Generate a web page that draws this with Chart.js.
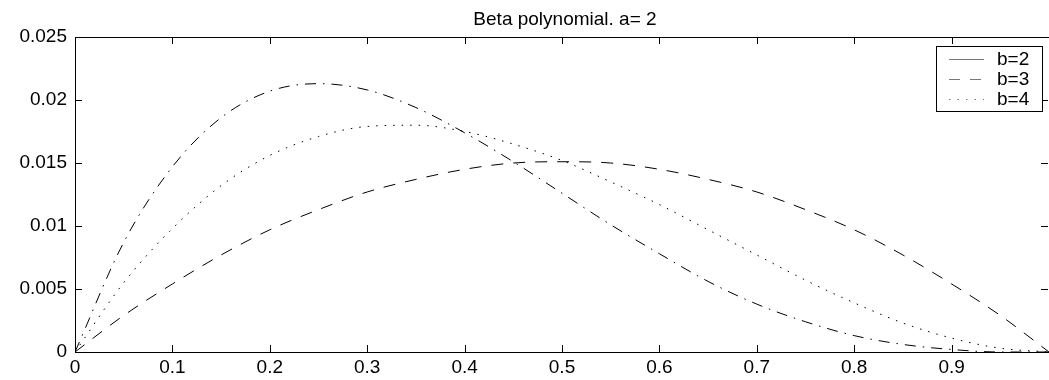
<!DOCTYPE html>
<html>
<head>
<meta charset="utf-8">
<script src="https://cdn.jsdelivr.net/npm/chart.js@4"></script>
<style>
  html, body { margin: 0; padding: 0; background: #fff; overflow: hidden; }
  #wrap { width: 1049px; height: 380px; }
</style>
</head>
<body>
<div id="wrap"><canvas id="chart" width="1049" height="380"></canvas></div>
<script>
// values
const xValues = [0, 0.05, 0.1, 0.15, 0.2, 0.25, 0.3, 0.35, 0.4, 0.45, 0.5,
                 0.55, 0.6, 0.65, 0.7, 0.75, 0.8, 0.85, 0.9, 0.95, 1.0];
const dashedValues = [0, 0.0029, 0.0054, 0.0077, 0.0097, 0.0113, 0.0127, 0.0137, 0.0145, 0.0150, 0.0151,
                      0.0150, 0.0145, 0.0137, 0.0127, 0.0113, 0.0097, 0.0077, 0.0054, 0.0029, 0];
const dottedValues = [0, 0.0055, 0.0098, 0.0132, 0.0156, 0.0171, 0.0179, 0.0180, 0.0175, 0.0165, 0.0152,
                      0.0135, 0.0117, 0.0097, 0.0077, 0.0057, 0.0039, 0.0023, 0.0011, 0.0003, 0];
const dashDotValues = [0, 0.0087, 0.0147, 0.0186, 0.0207, 0.0213, 0.0208, 0.0194, 0.0174, 0.0151, 0.0126,
                       0.0101, 0.0078, 0.0056, 0.0038, 0.0024, 0.0013, 0.0006, 0.0002, 0, 0];
const seriesLabels = ['b=2', 'b=3', 'b=4'];
const legendDashes = [[], [11, 10], [1.5, 7]];
const titleText = 'Beta polynomial. a= 2';
const xTicks = [0, 0.1, 0.2, 0.3, 0.4, 0.5, 0.6, 0.7, 0.8, 0.9];
const yTicks = [0, 0.005, 0.01, 0.015, 0.02, 0.025];

const FONT = 'Liberation Sans, Arial, Helvetica, sans-serif';

function toPoints(ys) {
  return xValues.map((x, i) => ({ x: x, y: ys[i] }));
}

// box, inward ticks, title and legend like the matlab figure
const matlabFrame = {
  id: 'matlabFrame',
  afterDraw(chart) {
    const ctx = chart.ctx;
    const a = chart.chartArea;
    const xs = chart.scales.x, ys = chart.scales.y;
    ctx.save();
    ctx.strokeStyle = '#000';
    ctx.lineWidth = 1;
    ctx.setLineDash([]);
    ctx.strokeRect(Math.round(a.left) + 0.5, Math.round(a.top) + 0.5,
                   Math.round(a.right - a.left), Math.round(a.bottom - a.top));
    const tl = 7;
    ctx.beginPath();
    xTicks.forEach(v => {
      const px = Math.round(xs.getPixelForValue(v)) + 0.5;
      ctx.moveTo(px, a.bottom); ctx.lineTo(px, a.bottom - tl);
      ctx.moveTo(px, a.top); ctx.lineTo(px, a.top + tl);
    });
    yTicks.forEach(v => {
      const py = Math.round(ys.getPixelForValue(v)) + 0.5;
      ctx.moveTo(a.left, py); ctx.lineTo(a.left + tl, py);
      ctx.moveTo(a.right - 1, py); ctx.lineTo(a.right - 1 - tl, py);
    });
    ctx.stroke();

    // title
    ctx.fillStyle = '#000';
    ctx.font = '19px ' + FONT;
    ctx.textAlign = 'center';
    ctx.textBaseline = 'alphabetic';
    ctx.fillText(titleText, 565, 25);

    // legend
    const bx = 936.5, by = 46.5, bw = 106, bh = 65;
    ctx.fillStyle = '#fff';
    ctx.fillRect(bx, by, bw, bh);
    ctx.strokeStyle = '#000';
    ctx.strokeRect(bx, by, bw, bh);
    ctx.font = '19px ' + FONT;
    ctx.textAlign = 'left';
    ctx.textBaseline = 'middle';
    seriesLabels.forEach((lab, i) => {
      const ry = 59 + i * 20;
      ctx.strokeStyle = '#777';
      ctx.setLineDash(legendDashes[i]);
      ctx.beginPath();
      ctx.moveTo(949, ry + 0.5);
      ctx.lineTo(984, ry + 0.5);
      ctx.stroke();
      ctx.setLineDash([]);
      ctx.fillStyle = '#000';
      ctx.fillText(lab, 997, ry + 1);
    });
    ctx.restore();
  }
};

const lineStyle = { borderColor: '#000', borderWidth: 1, pointRadius: 0, fill: false,
                    cubicInterpolationMode: 'monotone' };

new Chart(document.getElementById('chart'), {
  type: 'line',
  data: {
    datasets: [
      Object.assign({ label: seriesLabels[0], data: toPoints(dashedValues), borderDash: [12, 10] }, lineStyle),
      Object.assign({ label: seriesLabels[1], data: toPoints(dottedValues), borderDash: [1.5, 7] }, lineStyle),
      Object.assign({ label: seriesLabels[2], data: toPoints(dashDotValues), borderDash: [11, 7, 1.5, 7] }, lineStyle)
    ]
  },
  options: {
    responsive: false,
    animation: false,
    layout: { padding: { top: 37, right: 0, left: 0, bottom: 0 } },
    plugins: {
      legend: { display: false },
      title: { display: false },
      tooltip: { enabled: false }
    },
    scales: {
      x: {
        type: 'linear',
        min: 0,
        max: 1,
        border: { display: false },
        grid: { display: false, drawTicks: false },
        afterBuildTicks: s => { s.ticks = xTicks.map(v => ({ value: v })); },
        afterFit: s => { s.height = 28; s.paddingRight = 0; },
        ticks: {
          color: '#000',
          font: { family: FONT, size: 19 },
          padding: 4,
          maxRotation: 0,
          autoSkip: false,
          callback: v => String(+v.toFixed(2))
        }
      },
      y: {
        min: 0,
        max: 0.025,
        border: { display: false },
        grid: { display: false, drawTicks: false },
        afterBuildTicks: s => { s.ticks = yTicks.map(v => ({ value: v })); },
        afterFit: s => { s.width = 75; },
        ticks: {
          color: '#000',
          font: { family: FONT, size: 19 },
          padding: 8,
          callback: v => String(+v.toFixed(3))
        }
      }
    }
  },
  plugins: [matlabFrame]
});
</script>
</body>
</html>
